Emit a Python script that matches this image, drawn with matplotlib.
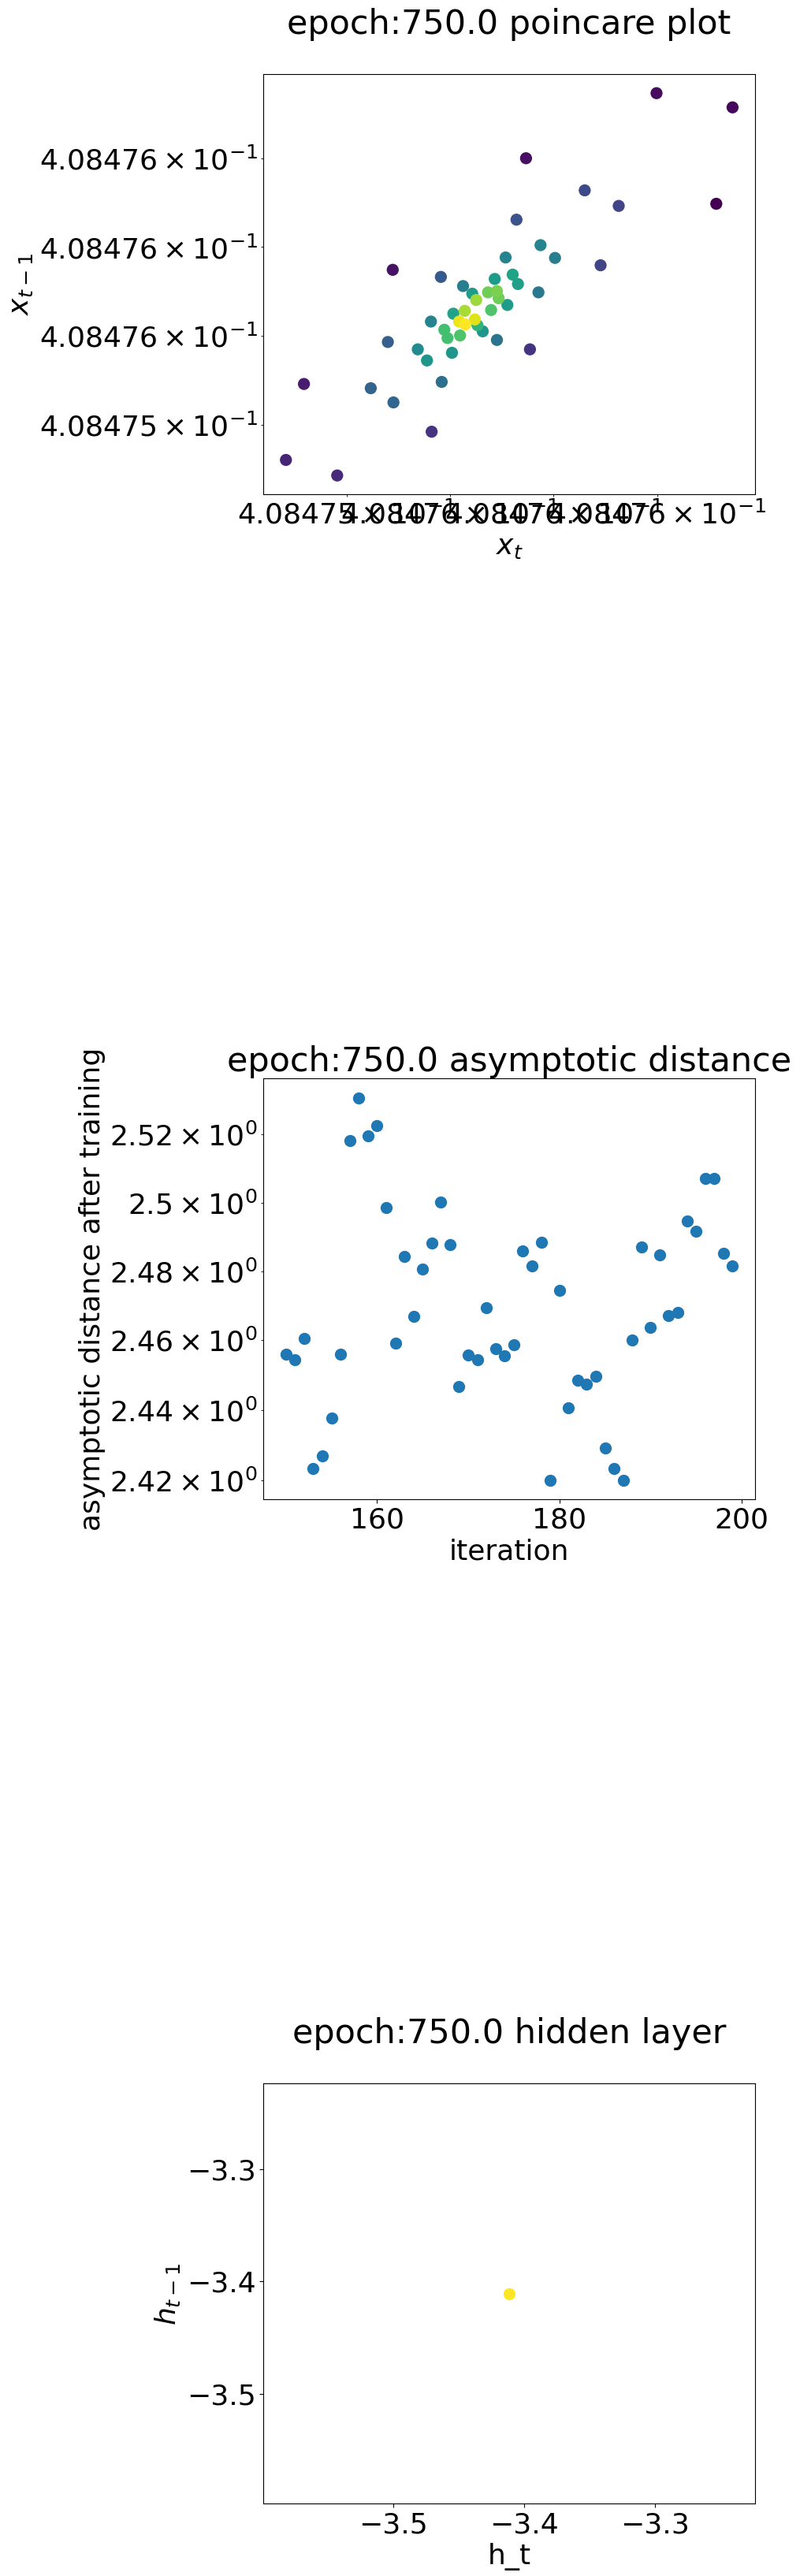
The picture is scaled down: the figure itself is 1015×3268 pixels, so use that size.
import matplotlib
matplotlib.use("Agg")
import matplotlib.pyplot as plt
import numpy as np

# ---------------- data ----------------
# Poincare plot (x_t vs x_{t-1})
poincare_xt = [
    0.4084759988, 0.4084761456, 0.4084757468, 0.4084758602, 0.4084759258,
    0.4084761142, 0.4084757284, 0.4084757748, 0.4084758028, 0.4084757074,
    0.4084758908, 0.4084754894, 0.4084755824, 0.4084756864, 0.4084757210,
    0.4084757312, 0.4084756252, 0.4084757708, 0.4084756430, 0.4084756506,
    0.4084756734, 0.4084756906, 0.4084756940, 0.4084757108, 0.4084756794,
    0.4084756286, 0.4084756064, 0.4084755632, 0.4084756176, 0.4084756296,
    0.4084756480, 0.4084756530, 0.4084756632, 0.4084755890, 0.4084755952,
    0.4084756194, 0.4084756906, 0.4084757544, 0.4084755378, 0.4084755556,
    0.4084756038, 0.4084755840, 0.4084754800, 0.4084753180, 0.4084754470,
    0.4084754908, 0.4084755646, 0.4084752832, 0.4084753822,
]
poincare_xt1 = [
    0.4084761468, 0.4084761148, 0.4084760002, 0.4084759278, 0.4084758928,
    0.4084758976, 0.4084758618, 0.4084758044, 0.4084757756, 0.4084757766,
    0.4084757590, 0.4084757488, 0.4084757328, 0.4084757282, 0.4084757380,
    0.4084757168, 0.4084757122, 0.4084756980, 0.4084756950, 0.4084756808,
    0.4084756980, 0.4084757008, 0.4084756848, 0.4084756696, 0.4084756582,
    0.4084756564, 0.4084756500, 0.4084756322, 0.4084756322, 0.4084756258,
    0.4084756370, 0.4084756240, 0.4084756102, 0.4084756138, 0.4084755950,
    0.4084756008, 0.4084755908, 0.4084755696, 0.4084755696, 0.4084755446,
    0.4084755618, 0.4084754962, 0.4084755862, 0.4084754916, 0.4084754820,
    0.4084754500, 0.4084753840, 0.4084753204, 0.4084752854,
]
# point density (colour value, 0 = low, 1 = high)
poincare_density = [
    0.03, 0.02, 0.04, 0.22, 0.20, 0.00, 0.25, 0.45, 0.42, 0.45,
    0.20, 0.05, 0.28, 0.55, 0.58, 0.56, 0.42, 0.40, 0.55, 0.85,
    0.78, 0.80, 0.78, 0.55, 0.72, 0.87, 0.58, 0.45, 0.97, 1.00,
    0.95, 0.65, 0.52, 0.70, 0.70, 0.72, 0.38, 0.15, 0.48, 0.52,
    0.52, 0.36, 0.30, 0.08, 0.32, 0.33, 0.15, 0.10, 0.12,
]

# Asymptotic distance per iteration
iterations = list(range(150, 200))
asym_distance = [
    2.4560, 2.4544, 2.4606, 2.4234, 2.4268, 2.4377, 2.4560, 2.5181, 2.5309, 2.5195,
    2.5227, 2.4985, 2.4592, 2.4842, 2.4668, 2.4807, 2.4881, 2.5001, 2.4878, 2.4467,
    2.4558, 2.4544, 2.4695, 2.4576, 2.4556, 2.4587, 2.4858, 2.4816, 2.4883, 2.4200,
    2.4743, 2.4405, 2.4484, 2.4474, 2.4496, 2.4292, 2.4232, 2.4200, 2.4601, 2.4869,
    2.4637, 2.4846, 2.4672, 2.4681, 2.4947, 2.4916, 2.5070, 2.5070, 2.4851, 2.4814,
]

# Hidden layer (h_t vs h_{t-1})
hidden_ht = [-3.4112]
hidden_ht1 = [-3.4108]

epoch = 750.0

# ---------------- figure ----------------
fig = plt.figure(figsize=(10.15, 32.68), dpi=100)

TICK = 26
LABEL = 26
TITLE = 31

# --- Poincare plot ---
ax1 = fig.add_axes([0.3295, 0.8080, 0.6141, 0.16325])
order = np.argsort(poincare_density)
px = np.array(poincare_xt)[order]
py = np.array(poincare_xt1)[order]
pc = np.array(poincare_density)[order]
ax1.scatter(px, py, c=pc, cmap="viridis", s=100)
ax1.set_xscale("log")
ax1.set_yscale("log")
ax1.set_title(f"epoch:{epoch} poincare plot", fontsize=TITLE, y=1.08)
ax1.set_xlabel("$x_t$", fontsize=LABEL)
ax1.set_ylabel("$x_{t-1}$", fontsize=LABEL)
ax1.tick_params(axis="both", which="both", labelsize=TICK)

# --- Asymptotic distance ---
ax2 = fig.add_axes([0.3295, 0.41799, 0.6141, 0.16331])
ax2.scatter(iterations, asym_distance, s=100)
ax2.set_yscale("log")
ax2.set_title(f"epoch:{epoch} asymptotic distance", fontsize=TITLE)
ax2.set_xlabel("iteration", fontsize=LABEL)
ax2.set_ylabel("asymptotic distance after training", fontsize=LABEL)
ax2.tick_params(axis="both", which="both", labelsize=TICK)

# --- Hidden layer ---
ax3 = fig.add_axes([0.3295, 0.0280, 0.6141, 0.16325])
ax3.scatter(hidden_ht, hidden_ht1, color=plt.cm.viridis(1.0), s=100)
ax3.set_title(f"epoch:{epoch} hidden layer", fontsize=TITLE, y=1.08)
ax3.set_xlabel("h_t", fontsize=LABEL)
ax3.set_ylabel("$h_{t-1}$", fontsize=LABEL)
ax3.tick_params(axis="both", which="both", labelsize=TICK)

fig.savefig("out.png", dpi=100)
